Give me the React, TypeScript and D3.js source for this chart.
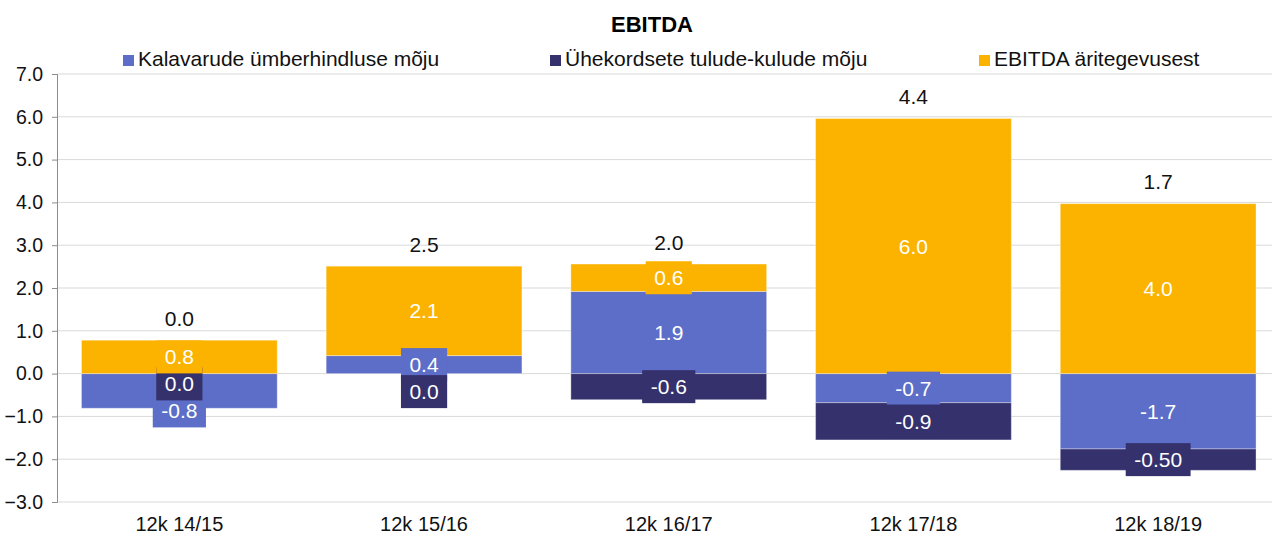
import React, { useRef, useEffect } from 'react';
import * as d3 from 'd3';

const categories = ['12k 14/15', '12k 15/16', '12k 16/17', '12k 17/18', '12k 18/19'];
const seriesNames = ['Kalavarude ümberhindluse mõju', 'Ühekordsete tulude-kulude mõju', 'EBITDA äritegevusest'];
const seriesColors = ['#5c6ec7', '#35316d', '#fbb300'];

// values
const revaluation = [-0.81, 0.42, 1.92, -0.68, -1.76];
const oneOff = [0.0, 0.0, -0.61, -0.87, -0.5];
const operating = [0.78, 2.09, 0.64, 5.96, 3.97];

// label texts as printed on the chart
const revaluationLabels = ['-0.8', '0.4', '1.9', '-0.7', '-1.7'];
const oneOffLabels = ['0.0', '0.0', '-0.6', '-0.9', '-0.50'];
const operatingLabels = ['0.8', '2.1', '0.6', '6.0', '4.0'];
const totalLabels = ['0.0', '2.5', '2.0', '4.4', '1.7'];

const yTicks = [-3, -2, -1, 0, 1, 2, 3, 4, 5, 6, 7];

const W = 1272;
const H = 537;
const FONT = 'Liberation Sans, Arial, sans-serif';

const App: React.FC = () => {
  const svgRef = useRef<SVGSVGElement | null>(null);

  useEffect(() => {
    const svg = d3.select(svgRef.current);
    svg.selectAll('*').remove();

    const left = 57;
    const top = 74;
    const bottom = 502;

    const x = d3.scaleBand<string>()
      .domain(categories)
      .range([left, 1280.5])
      .paddingInner(0.2)
      .paddingOuter(0.1);

    const y = d3.scaleLinear().domain([-3, 7]).range([bottom, top]);

    // title
    svg.append('text')
      .attr('x', 652)
      .attr('y', 32)
      .attr('text-anchor', 'middle')
      .style('font-family', FONT)
      .style('font-weight', 'bold')
      .style('font-size', '22px')
      .text('EBITDA');

    // legend
    const legendX = [123, 550, 979];
    seriesNames.forEach((name, i) => {
      svg.append('rect')
        .attr('x', legendX[i])
        .attr('y', 55)
        .attr('width', 11)
        .attr('height', 11)
        .attr('fill', seriesColors[i]);
      svg.append('text')
        .attr('x', legendX[i] + 15)
        .attr('y', 66)
        .style('font-family', FONT)
        .style('font-size', '21px')
        .attr('fill', '#111')
        .text(name);
    });

    // grid
    svg.append('g')
      .selectAll('line')
      .data(yTicks)
      .enter()
      .append('line')
      .attr('x1', left)
      .attr('x2', W)
      .attr('y1', d => y(d))
      .attr('y2', d => y(d))
      .attr('stroke', '#d9d9d9')
      .attr('stroke-width', 1);

    // y axis
    const yAxis = svg.append('g')
      .attr('transform', `translate(${left},0)`)
      .call(d3.axisLeft(y).tickValues(yTicks).tickFormat(d3.format('.1f')).tickSize(5).tickPadding(9));
    yAxis.select('.domain').attr('stroke', '#8c8c8c');
    yAxis.selectAll('.tick line').attr('stroke', '#8c8c8c');
    yAxis.selectAll('.tick text')
      .style('font-family', FONT)
      .style('font-size', '19.5px')
      .attr('fill', '#111');

    // x labels
    svg.append('g')
      .selectAll('text')
      .data(categories)
      .enter()
      .append('text')
      .attr('x', d => x(d)! + x.bandwidth() / 2)
      .attr('y', 531)
      .attr('text-anchor', 'middle')
      .style('font-family', FONT)
      .style('font-size', '20px')
      .attr('fill', '#111')
      .text(d => d);

    // stacked bars
    const keys = ['rev', 'one', 'op'];
    const table = categories.map((c, i) => ({
      cat: c,
      rev: revaluation[i],
      one: oneOff[i],
      op: operating[i],
    }));
    const stacked = d3.stack<any>()
      .keys(keys)
      .offset(d3.stackOffsetDiverging)(table);

    const allLabels = [revaluationLabels, oneOffLabels, operatingLabels];

    svg.append('g')
      .selectAll('g')
      .data(stacked)
      .enter()
      .append('g')
      .attr('fill', (d, i) => seriesColors[i])
      .selectAll('rect')
      .data(d => d)
      .enter()
      .append('rect')
      .attr('x', d => x(d.data.cat)!)
      .attr('width', x.bandwidth())
      .attr('y', d => y(Math.max(d[0], d[1])))
      .attr('height', d => Math.abs(y(d[0]) - y(d[1])))
      .attr('stroke', 'rgba(255,255,255,0.35)')
      .attr('stroke-width', 1);

    // data labels with boxes, pushed apart when they collide
    const boxH = 33;
    const minGap = 27;
    const labelLayer = svg.append('g');
    const placed: { s: number; c: number; cy: number }[] = [];
    categories.forEach((c, ci) => {
      const items = stacked.map((s, si) => ({
        s: si,
        c: ci,
        cy: (y(s[ci][0]) + y(s[ci][1])) / 2,
      }));
      items.sort((a, b) => a.cy - b.cy);
      for (let k = 1; k < items.length; k++) {
        if (items[k].cy < items[k - 1].cy + minGap) items[k].cy = items[k - 1].cy + minGap;
      }
      placed.push(...items);
    });
    placed.sort((a, b) => a.s - b.s);
    placed.forEach(p => {
      const text = allLabels[p.s][p.c];
      const cx = x(categories[p.c])! + x.bandwidth() / 2;
      const g = labelLayer.append('g');
      const t = g.append('text')
        .attr('x', cx)
        .attr('y', p.cy)
        .attr('text-anchor', 'middle')
        .attr('dominant-baseline', 'central')
        .style('font-family', FONT)
        .style('font-size', '21px')
        .attr('fill', '#fff')
        .text(text);
      const w = (t.node() as SVGTextElement).getComputedTextLength() + 17;
      g.insert('rect', 'text')
        .attr('x', cx - w / 2)
        .attr('y', p.cy - boxH / 2)
        .attr('width', w)
        .attr('height', boxH)
        .attr('fill', seriesColors[p.s]);
    });

    // totals above the bars
    svg.append('g')
      .selectAll('text')
      .data(categories)
      .enter()
      .append('text')
      .attr('x', d => x(d)! + x.bandwidth() / 2)
      .attr('y', (d, i) => y(d3.max(stacked, s => s[i][1])!) - 22)
      .attr('text-anchor', 'middle')
      .attr('dominant-baseline', 'central')
      .style('font-family', FONT)
      .style('font-size', '21px')
      .attr('fill', '#111')
      .text((d, i) => totalLabels[i]);
  }, []);

  return (
    <svg
      ref={svgRef}
      width={W}
      height={H}
      style={{ position: 'absolute', left: 0, top: 0, background: '#fff' }}
    />
  );
};

export default App;
